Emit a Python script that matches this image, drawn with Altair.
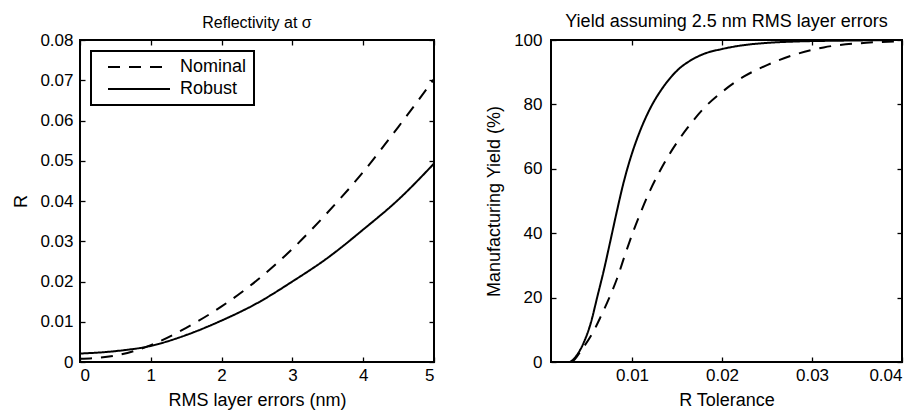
import altair as alt
import pandas as pd

# ---- Left panel: Reflectivity vs RMS layer errors ----
rms_x = [0, 0.5, 1, 1.5, 2, 2.5, 3, 3.5, 4, 4.5, 5]
nominal_R = [0.0008, 0.0016, 0.0042, 0.0085, 0.0138, 0.0203, 0.0281, 0.0372, 0.0472, 0.0585, 0.0703]
robust_R = [0.0021, 0.0027, 0.0040, 0.0067, 0.0103, 0.0146, 0.0200, 0.0259, 0.0329, 0.0404, 0.0493]

# ---- Right panel: Yield vs R tolerance ----
tol_robust = [0.001, 0.002, 0.0030, 0.00376, 0.00468, 0.00541, 0.00615, 0.00688, 0.00762, 0.00835,
              0.00909, 0.0100, 0.01093, 0.01203, 0.0135, 0.0152, 0.0166, 0.0180, 0.0200, 0.0224,
              0.0250, 0.0279, 0.0334, 0.0400]
yield_robust = [0, 0, 0, 1.7, 6.3, 12, 20.3, 28.6, 37.9, 47.2,
                56, 64.8, 72, 78.8, 85.5, 91, 93.8, 95.7, 97.2, 98.4,
                99.1, 99.5, 99.8, 100]
tol_nominal = [0.001, 0.002, 0.0032, 0.0045, 0.0056, 0.00651, 0.00725, 0.00835, 0.00927, 0.0102,
               0.01093, 0.01203, 0.01313, 0.0146, 0.01614, 0.01798, 0.0202, 0.0224, 0.0250, 0.0279,
               0.0313, 0.0364, 0.0400]
yield_nominal = [0, 0, 0, 4.2, 8.9, 14, 18.5, 26, 33.7, 41,
                 46.2, 53.4, 59.5, 66.5, 72.6, 78.8, 84.3, 88.6, 92.2, 95.3,
                 97.7, 99.2, 99.6]

series = ["Nominal", "Robust"]

left_df = pd.DataFrame({
    "x": rms_x + rms_x,
    "R": nominal_R + robust_R,
    "series": ["Nominal"] * len(rms_x) + ["Robust"] * len(rms_x),
})
right_df = pd.DataFrame({
    "x": tol_nominal + tol_robust,
    "Y": yield_nominal + yield_robust,
    "series": ["Nominal"] * len(tol_nominal) + ["Robust"] * len(tol_robust),
})

FONT = "Liberation Sans"
dash_scale = alt.Scale(domain=series, range=[[12, 9], [1, 0]])
LW = 2


def main_axis(orient, values, title, fmt, label_pad, title_pad):
    return alt.Axis(orient=orient, values=values, title=title, format=fmt,
                    offset=-5, tickSize=5, domain=False, grid=False,
                    labelPadding=label_pad, titlePadding=title_pad)


def mirror_axis(orient, values):
    return alt.Axis(orient=orient, values=values, title=None, labels=False,
                    offset=-5, tickSize=5, domain=False, grid=False)


# Left chart
lx_scale = alt.Scale(domain=[0, 5], nice=False)
ly_scale = alt.Scale(domain=[0, 0.08], nice=False)
lx_vals = [0, 1, 2, 3, 4, 5]
ly_vals = [0, 0.01, 0.02, 0.03, 0.04, 0.05, 0.06, 0.07, 0.08]

left_lines = alt.Chart(left_df).mark_line(color="black", strokeWidth=LW, interpolate="monotone").encode(
    x=alt.X("x:Q", scale=lx_scale, axis=main_axis("bottom", lx_vals, "RMS layer errors (nm)", "d", 5, 8)),
    y=alt.Y("R:Q", scale=ly_scale, axis=main_axis("left", ly_vals, "R", ".2~f", 7, 9)),
    strokeDash=alt.StrokeDash("series:N", scale=dash_scale, legend=alt.Legend(
        title=None, orient="top-left", offset=11, symbolType="stroke", symbolSize=3844,
        symbolStrokeWidth=LW, symbolStrokeColor="black", clipHeight=18,
        labelFontSize=18, labelFont=FONT, labelColor="black", labelOffset=9,
        padding=7, symbolOffset=9, rowPadding=4, strokeColor="black", fillColor="white")),
    detail="series:N",
)
left_mirror = alt.Chart(left_df).mark_line(opacity=0).encode(
    x=alt.X("x:Q", scale=lx_scale, axis=mirror_axis("top", lx_vals)),
    y=alt.Y("R:Q", scale=ly_scale, axis=mirror_axis("right", ly_vals)),
    detail="series:N",
)
left = alt.layer(left_lines, left_mirror).resolve_axis(x="independent", y="independent").properties(
    width=354, height=322,
    title=alt.TitleParams("Reflectivity at σ", fontSize=16, fontWeight="normal", font=FONT, offset=0, color="black"),
)

# Right chart
rx_scale = alt.Scale(domain=[0.001, 0.04], nice=False)
ry_scale = alt.Scale(domain=[0, 100], nice=False)
rx_vals = [0.01, 0.02, 0.03, 0.04]
ry_vals = [0, 20, 40, 60, 80, 100]

right_lines = alt.Chart(right_df).mark_line(color="black", strokeWidth=LW, interpolate="monotone").encode(
    x=alt.X("x:Q", scale=rx_scale, axis=main_axis("bottom", rx_vals, "R Tolerance", ".2~f", 5, 8)),
    y=alt.Y("Y:Q", scale=ry_scale, axis=main_axis("left", ry_vals, "Manufacturing Yield (%)", "d", 9, 10)),
    strokeDash=alt.StrokeDash("series:N", scale=dash_scale, legend=None),
    detail="series:N",
)
right_mirror = alt.Chart(right_df).mark_line(opacity=0).encode(
    x=alt.X("x:Q", scale=rx_scale, axis=mirror_axis("top", rx_vals)),
    y=alt.Y("Y:Q", scale=ry_scale, axis=mirror_axis("right", ry_vals)),
    detail="series:N",
)
right = alt.layer(right_lines, right_mirror).resolve_axis(x="independent", y="independent").properties(
    width=351, height=322,
    title=alt.TitleParams("Yield assuming 2.5 nm RMS layer errors", fontSize=18, fontWeight="normal",
                          font=FONT, offset=0, color="black"),
)

chart = alt.hconcat(left, right, spacing=45).resolve_scale(strokeDash="independent").resolve_legend(
    strokeDash="independent"
).properties(
    padding={"left": 3, "top": 4, "right": 0, "bottom": 0},
    background="white",
).configure_view(
    stroke="black", strokeWidth=2,
).configure_axis(
    labelFont=FONT, titleFont=FONT, labelFontSize=17, titleFontSize=18, titleFontWeight="normal",
    labelColor="black", titleColor="black", tickColor="black", tickWidth=1.3,
).configure_legend(
    strokeWidth=2,
)

chart.save("out.html", embed_options={"renderer": "svg", "actions": False})
